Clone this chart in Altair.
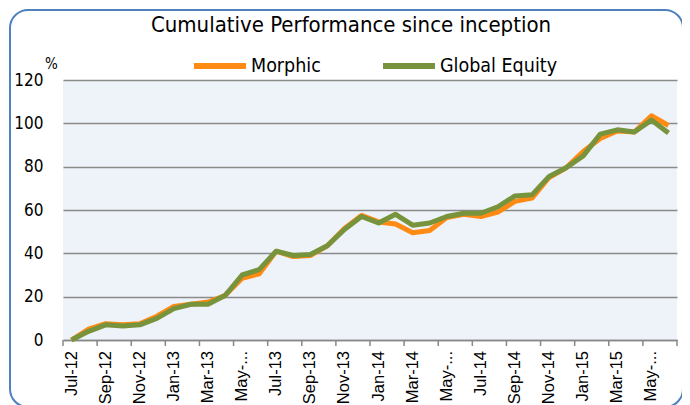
import altair as alt
import pandas as pd

labels = ["Jul-12","Aug-12","Sep-12","Oct-12","Nov-12","Dec-12",
          "Jan-13","Feb-13","Mar-13","Apr-13","May-...","Jun-13",
          "Jul-13","Aug-13","Sep-13","Oct-13","Nov-13","Dec-13",
          "Jan-14","Feb-14","Mar-14","Apr-14","May-...","Jun-14",
          "Jul-14","Aug-14","Sep-14","Oct-14","Nov-14","Dec-14",
          "Jan-15","Feb-15","Mar-15","Apr-15","May-...","Jun-15"]
morphic = [0, 5, 7.5, 7, 7.5, 11, 15.5, 16.5, 17.5, 20.5, 28.5, 30.5,
           41, 38.5, 39, 43.5, 51.5, 57.5, 54.5, 53.5, 49.5, 50.5, 56.5, 58,
           57, 59, 64, 65.5, 75, 79.5, 87, 93, 96.5, 96, 103.5, 99]
global_eq = [0, 4, 7, 6.5, 7, 10, 14.5, 16.5, 16.5, 20.5, 30, 32.5,
             41, 39, 39.5, 43.5, 51, 57, 54, 58, 53, 54, 57, 58.5,
             58.5, 61.5, 66.5, 67, 75.5, 79.5, 85, 95, 97, 96, 101.5, 95.5]
series = ["Morphic", "Global Equity"]
colors = ["#FF8A14", "#77933C"]
y_ticks = [0, 20, 40, 60, 80, 100, 120]
title_text = "Cumulative Performance since inception"

NARROW = "DejaVu Sans Condensed, Roboto Condensed, Roboto, sans-serif"

n = len(labels)
df = pd.DataFrame({
    "i": list(range(n)) * 2,
    "value": morphic + global_eq,
    "series": [series[0]] * n + [series[1]] * n,
})
tick_df = pd.DataFrame({"t": [k - 0.5 for k in range(0, n + 1, 2)]})
lab_df = pd.DataFrame({"i": list(range(0, n, 2)),
                       "lab": [labels[k] for k in range(0, n, 2)]})

xscale = alt.Scale(domain=[-0.5, n - 0.5], nice=False, zero=False)
yscale = alt.Scale(domain=[0, 120], nice=False)

x_enc = alt.X("i:Q", scale=xscale, axis=alt.Axis(
    labels=False, ticks=False, grid=False, domainColor="#888888",
    domainWidth=1.5, title=None))
y_enc = alt.Y("value:Q", scale=yscale, axis=alt.Axis(
    values=y_ticks, grid=True, gridColor="#8A8A8A", gridWidth=1.5,
    domain=False, ticks=False, labelFontSize=17, labelColor="#000000",
    labelFont=NARROW, labelPadding=20,
    title="%", titleAngle=0, titleX=-12, titleY=-9, titleFontSize=15,
    titleFontWeight="normal", titleFont=NARROW,
    titleAlign="center", titleBaseline="bottom"))

color_enc = alt.Color("series:N", scale=alt.Scale(domain=series, range=colors),
    legend=alt.Legend(orient="none", legendX=128, legendY=-43,
        direction="horizontal", title=None, symbolType="stroke",
        symbolStrokeWidth=6, symbolSize=2700, labelFontSize=19.5,
        labelFont=NARROW, labelColor="#000000",
        columnPadding=50, labelOffset=2))

border = alt.Chart(pd.DataFrame({"a": [0]})).mark_rect(
    fill=None, stroke="#4F81BD", strokeWidth=2, cornerRadius=18, clip=False
).encode(x=alt.value(-53), x2=alt.value(620), y=alt.value(-70), y2=alt.value(327))

title = alt.Chart(pd.DataFrame({"t": [title_text]})).mark_text(
    font=NARROW, fontSize=22, color="#000000", align="center", baseline="middle"
).encode(text="t:N", x=alt.value(288), y=alt.value(-55))

ticks = alt.Chart(tick_df).mark_rule(color="#888888", strokeWidth=1.5).encode(
    x=alt.X("t:Q", scale=xscale), y=alt.value(260), y2=alt.value(266))

xlabels = alt.Chart(lab_df).mark_text(
    font="Liberation Sans, Arial, sans-serif", fontSize=16.5, color="#000000",
    angle=270, align="right", baseline="middle"
).encode(x=alt.X("i:Q", scale=xscale), y=alt.value(271), text="lab:N")

line_m = alt.Chart(df).transform_filter(alt.datum.series == series[0]).mark_line(
    strokeWidth=5, strokeJoin="round").encode(x=x_enc, y=y_enc, color=color_enc)
line_g = alt.Chart(df).transform_filter(alt.datum.series == series[1]).mark_line(
    strokeWidth=5, strokeJoin="round").encode(x=x_enc, y=y_enc, color=color_enc)

chart = alt.layer(border, title, ticks, xlabels, line_m, line_g).properties(
    width=614, height=260,
    padding={"left": 55, "top": 72, "right": 5, "bottom": 65},
    autosize=alt.AutoSizeParams(type="none"),
    background="#FFFFFF",
).configure_view(fill="#EEF3FA", strokeWidth=0)

chart.save("out.html", embed_options={"renderer": "svg", "actions": False})
